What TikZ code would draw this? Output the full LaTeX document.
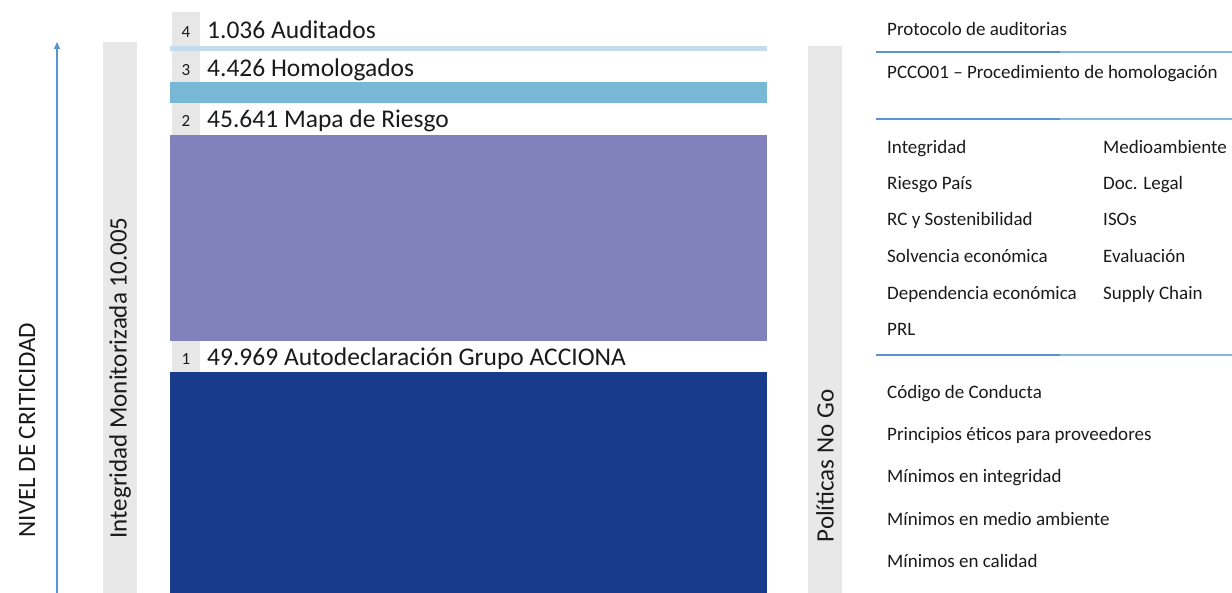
\documentclass[tikz,border=0pt]{standalone}
\usepackage{fontspec}
\setmainfont{Carlito}
\usetikzlibrary{arrows.meta}
\definecolor{cellgray}{HTML}{E7E7E7}
\definecolor{bargray}{HTML}{E8E8E8}
\definecolor{thinblue}{HTML}{C4DBEE}
\definecolor{midblue}{HTML}{79B7D7}
\definecolor{purple}{HTML}{8181BC}
\definecolor{darkblue}{HTML}{183B8B}
\definecolor{linkblue}{HTML}{5A95D2}
\definecolor{linkblue2}{HTML}{86B7E2}
\definecolor{txt}{HTML}{1A1A1A}
\begin{document}
\begin{tikzpicture}[x=1pt,y=-1pt,
  numcell/.style={fill=cellgray,draw=none},
  numtxt/.style={anchor=base,font=\fontsize{17}{20}\selectfont,text=txt,inner sep=0pt},
  maintxt/.style={anchor=base west,font=\fontsize{25.5}{28}\selectfont,text=txt,inner sep=0pt},
  sidetxt/.style={anchor=mid west,font=\fontsize{19}{22}\selectfont,text=txt,inner sep=0pt},
  vtxt/.style={rotate=90,anchor=center,font=\fontsize{25}{28}\selectfont,text=txt,inner sep=0pt},
  sep/.style={line width=2pt}
]
\useasboundingbox (0,0) rectangle (1232,593);
% left arrow
\coordinate (arrS) at (57,593);
\coordinate (arrE) at (57,42);
\draw[linkblue,line width=1.3pt,-{Triangle[length=7pt,width=6pt]}] (arrS) -- (arrE);
\node[vtxt] (nivel) at (27,430) {NIVEL DE CRITICIDAD};
% gray bars
\fill[bargray] (103,42) rectangle (137,593);
\node[vtxt] (integ) at (120,378) {Integridad Monitorizada 10.005};
\fill[bargray] (808,46) rectangle (842,593);
\node[vtxt] (nogo) at (825,466) {Políticas No Go};
% bands
\fill[thinblue] (170,46) rectangle (767,51);
\fill[midblue] (170,82) rectangle (767,103);
\fill[purple] (170,135) rectangle (767,341);
\fill[darkblue] (170,372) rectangle (767,593);
% number cells
\fill[numcell] (172,12) rectangle (200,46);
\fill[numcell] (172,51) rectangle (200,82);
\fill[numcell] (172,103) rectangle (200,135);
\fill[numcell] (172,341) rectangle (200,372);
\node[numtxt] (n4) at (186,38) {4};
\node[numtxt] (n3) at (186,76) {3};
\node[numtxt] (n2) at (186,127) {2};
\node[numtxt] (n1) at (186,365) {1};
\node[maintxt] (t4) at (207,39) {1.036 Auditados};
\node[maintxt] (t3) at (207,77) {4.426 Homologados};
\node[maintxt] (t2) at (207,128) {45.641 Mapa de Riesgo};
\node[maintxt] (t1) at (207,366) {49.969 Autodeclaración Grupo ACCIONA};
% right side
\node[sidetxt] (r1) at (887,33) {Protocolo de auditorias};
\draw[sep,linkblue] (876,52) -- (1060,52);
\draw[sep,linkblue2] (1060,52) -- (1232,52);
\node[sidetxt] (r2) at (887,76) {PCCO01 – Procedimiento de homologación};
\draw[sep,linkblue] (876,119) -- (1060,119);
\draw[sep,linkblue2] (1060,119) -- (1232,119);
\node[sidetxt] (a1) at (887,151) {Integridad};
\node[sidetxt] (a2) at (887,187) {Riesgo País};
\node[sidetxt] (a3) at (887,223) {RC y Sostenibilidad};
\node[sidetxt] (a4) at (887,260) {Solvencia económica};
\node[sidetxt] (a5) at (887,297) {Dependencia económica};
\node[sidetxt] (a6) at (887,333) {PRL};
\node[sidetxt] (b1) at (1103,151) {Medioambiente};
\node[sidetxt] (b2) at (1103,187) {Doc. Legal};
\node[sidetxt] (b3) at (1103,223) {ISOs};
\node[sidetxt] (b4) at (1103,260) {Evaluación};
\node[sidetxt] (b5) at (1103,297) {Supply Chain};
\draw[sep,linkblue] (876,355) -- (1060,355);
\draw[sep,linkblue2] (1060,355) -- (1232,355);
\node[sidetxt] (c1) at (887,396) {Código de Conducta};
\node[sidetxt] (c2) at (887,438) {Principios éticos para proveedores};
\node[sidetxt] (c3) at (887,480) {Mínimos en integridad};
\node[sidetxt] (c4) at (887,523) {Mínimos en medio ambiente};
\node[sidetxt] (c5) at (887,565) {Mínimos en calidad};
\end{tikzpicture}
\end{document}
